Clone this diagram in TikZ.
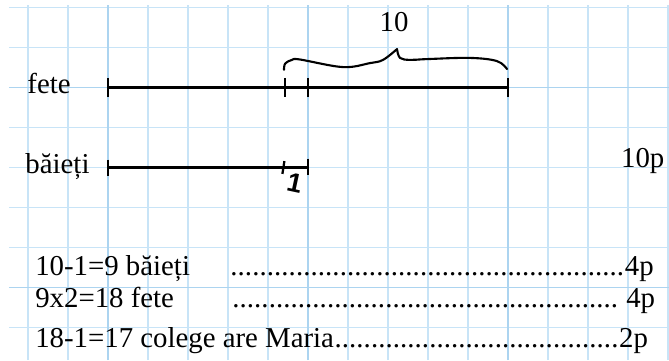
\documentclass[tikz,border=0pt]{standalone}
\usepackage{fontspec}
\setmainfont{Liberation Serif}
\newfontfamily\handfont{Liberation Sans}
\usetikzlibrary{positioning}
\definecolor{gridblue}{RGB}{200,228,247}
\definecolor{gridmajor}{RGB}{172,212,240}
\newcommand{\dotrow}[1]{\makebox[#1]{\xleaders\hbox{.}\hfill}}

\begin{document}
\begin{tikzpicture}[
  txt/.style={inner sep=0pt, anchor=base west, font=\fontsize{20.5}{24}\selectfont},
  seg/.style={line width=1.6pt, black},
  hand/.style={line width=1.5pt, line cap=round, line join=round},
  minorline/.style={gridblue, line width=1pt},
  majorline/.style={gridmajor, line width=1.4pt}
]
\useasboundingbox (-0.7,-0.8125) rectangle (16.025,8.1875);
\draw[minorline] (-0.475,-0.8125) grid (16.025,8.0625);
\foreach \x in {2,7,12} \draw[majorline] (\x,-0.8125) -- (\x,8.0625);
\foreach \y in {1,6} \draw[majorline] (-0.475,\y) -- (16.025,\y);

\coordinate (f0) at (2,6);
\coordinate (f1) at (6.425,6);
\coordinate (f2) at (7,6);
\coordinate (f3) at (12,6);
\coordinate (b0) at (2,4);
\coordinate (b1) at (6.38,4);
\coordinate (b2) at (7,4);

\node[txt] (fete) at (-0.02,5.86) {fete};
\node[txt] (baieti) at (-0.07,3.86) {băieți};

\draw[seg] (f0) -- (f3);
\draw[seg] (f0) ++(0,0.24) -- ++(0,-0.48);
\draw[seg] (f1) ++(0,0.24) -- ++(0,-0.48);
\draw[seg] (f2) ++(0,0.24) -- ++(0,-0.48);
\draw[seg] (f3) ++(0,0.24) -- ++(0,-0.48);

\draw[seg] (b0) -- (b2);
\draw[seg] (b0) ++(0,0.2) -- ++(0,-0.4);
\draw[seg] (b1) ++(0.03,0.16) -- ++(-0.05,-0.32);
\draw[seg] (b2) ++(0,0.22) -- ++(0,-0.4);

\draw[hand] plot[smooth, tension=0.6] coordinates {(6.4,6.44) (6.43,6.6) (6.6,6.69) (6.8,6.7)
  (7.875,6.51) (8.55,6.61) (8.875,6.69) (9.225,6.96)};
\draw[hand] plot[smooth, tension=0.6] coordinates {(9.225,6.96) (9.3,6.74) (9.55,6.69)
  (9.975,6.71) (11.05,6.74) (11.725,6.66) (11.975,6.46)};

\node[txt, anchor=base] (ten) at (9.15,7.39) {10};
\node[inner sep=0pt, rotate=-12, font=\handfont\bfseries\fontsize{19}{19}\selectfont] (one) at (6.67,3.6) {1};
\node[txt] (pts) at (14.82,4.01) {10p};

\node[txt] (r1) at (0.175,1.31) {10-1=9 băieți};
\node[txt] (d1) at (5.05,1.31) {\dotrow{9.85cm}};
\node[txt] (p1) at (d1.base east) {4p};

\node[txt] (r2) at (0.175,0.49) {9x2=18 fete};
\node[txt] (d2) at (5.1,0.49) {\dotrow{9.65cm}};
\node[txt] (p2) at (14.95,0.49) {4p};

\node[txt] (r3) at (0.175,-0.49) {18-1=17 colege are Maria};
\node[txt] (d3) at (r3.base east) {\dotrow{7.1cm}};
\node[txt] (p3) at (d3.base east) {2p};
\end{tikzpicture}
\end{document}
